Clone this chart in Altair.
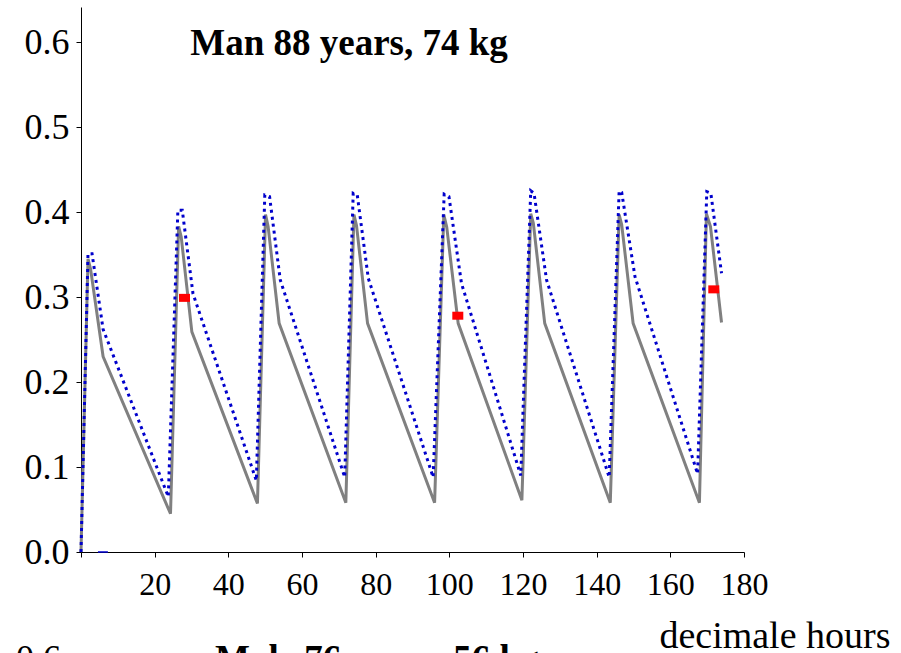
import altair as alt
import pandas as pd

# Serum concentration over a week of once-daily dosing (hours since first dose)
model_a_hours = [0, 1.9, 2.6, 6.0, 24.3, 26.5, 27.2, 30.1, 47.9, 50.1, 50.8, 53.8,
                 71.9, 74.1, 74.8, 77.8, 96.0, 98.5, 99.3, 102.4, 119.7, 122.1,
                 122.8, 125.9, 143.7, 146.1, 146.8, 149.9, 167.9, 169.8, 170.9, 173.9]
model_a_conc = [0.0, 0.345, 0.333, 0.230, 0.045, 0.383, 0.371, 0.259, 0.057, 0.397,
                0.383, 0.269, 0.058, 0.397, 0.384, 0.269, 0.058, 0.397, 0.382, 0.269,
                0.061, 0.398, 0.387, 0.269, 0.058, 0.397, 0.385, 0.269, 0.058, 0.398,
                0.383, 0.270]

model_b_hours = [0, 1.9, 3.0, 6.0, 23.7, 26.3, 27.5, 30.4, 47.6, 49.9, 51.2, 54.1,
                 71.6, 73.9, 75.0, 78.0, 95.6, 98.6, 99.9, 103.3, 119.4, 122.1,
                 123.0, 126.4, 143.4, 146.1, 146.8, 150.4, 167.4, 169.9, 171.0, 173.9]
model_b_conc = [0.0, 0.351, 0.351, 0.262, 0.065, 0.402, 0.402, 0.304, 0.084, 0.420,
                0.418, 0.320, 0.088, 0.422, 0.420, 0.322, 0.088, 0.421, 0.418, 0.316,
                0.090, 0.425, 0.422, 0.320, 0.088, 0.425, 0.423, 0.324, 0.092, 0.424,
                0.422, 0.328]

baseline_hours = [4.6, 7.3]
baseline_conc = [0.0, 0.0]

measured_hours = [28.1, 102.3, 171.8]
measured_conc = [0.299, 0.278, 0.309]

x_ticks = [0, 20, 40, 60, 80, 100, 120, 140, 160, 180]
y_ticks = [0.0, 0.1, 0.2, 0.3, 0.4, 0.5, 0.6]

SERIF = "Liberation Serif"

df_a = pd.DataFrame({"hours": model_a_hours, "conc": model_a_conc})
df_b = pd.DataFrame({"hours": model_b_hours, "conc": model_b_conc})
df_base = pd.DataFrame({"hours": baseline_hours, "conc": baseline_conc})
df_m = pd.DataFrame({"hours": measured_hours, "conc": measured_conc})

x_enc = alt.X(
    "hours:Q",
    scale=alt.Scale(domain=[0, 180], nice=False, zero=False),
    axis=alt.Axis(
        values=x_ticks,
        labelExpr="datum.value == 0 ? '' : datum.label",
        grid=False,
        domainColor="black",
        domainWidth=1,
        tickColor="black",
        tickSize=5,
        labelFont=SERIF,
        labelFontSize=32,
        labelColor="black",
        labelPadding=12,
        labelFlush=False,
        title="decimale hours",
        titleFont=SERIF,
        titleFontSize=38,
        titleFontWeight="normal",
        titleColor="black",
        titleAlign="right",
        titleBaseline="alphabetic",
        titleX=809,
        titleY=95,
    ),
)

y_enc = alt.Y(
    "conc:Q",
    scale=alt.Scale(domain=[0, 0.6412], nice=False, zero=True),
    axis=alt.Axis(
        values=y_ticks,
        format=".1f",
        grid=False,
        domainColor="black",
        domainWidth=1,
        tickColor="black",
        tickSize=5,
        labelFont=SERIF,
        labelFontSize=36,
        labelColor="black",
        labelPadding=7,
        labelFlush=False,
        title=None,
    ),
)

line_a = alt.Chart(df_a).mark_line(color="#808080", strokeWidth=3).encode(
    x=x_enc, y=y_enc
)

line_b = alt.Chart(df_b).mark_line(
    color="#0000cc", strokeWidth=3, strokeDash=[3, 4], strokeCap="butt"
).encode(x=x_enc, y=y_enc)

base_dash = alt.Chart(df_base).mark_line(color="#0000cc", strokeWidth=1.5).encode(
    x=x_enc, y=y_enc
)

measured = alt.Chart(df_m).mark_point(
    shape="M-1.1,-0.8H1.1V0.8H-1.1Z",
    filled=True,
    color="#ff0000",
    opacity=1,
    size=100,
).encode(x=x_enc, y=y_enc)

title_text = alt.Chart(pd.DataFrame({"t": ["Man 88 years, 74 kg"]})).mark_text(
    font=SERIF, fontSize=37, fontWeight="bold", color="black",
    align="center", baseline="alphabetic",
).encode(x=alt.value(268), y=alt.value(48), text="t:N")

# Heading and top label of the next panel, which starts below this one
next_title = alt.Chart(pd.DataFrame({"t": ["Male 76 years, 56 kg"]})).mark_text(
    font=SERIF, fontSize=37, fontWeight="bold", color="black",
    align="left", baseline="alphabetic",
).encode(x=alt.value(134), y=alt.value(664), text="t:N")

next_label = alt.Chart(pd.DataFrame({"t": ["0.6"]})).mark_text(
    font=SERIF, fontSize=36, color="black",
    align="right", baseline="alphabetic",
).encode(x=alt.value(-20), y=alt.value(663), text="t:N")

chart = alt.layer(
    line_a, line_b, base_dash, measured, title_text, next_title, next_label
).properties(
    width=663,
    height=545,
    autosize=alt.AutoSizeParams(type="none"),
    padding={"left": 81, "top": 7, "right": 157, "bottom": 101},
    background="white",
).configure_view(stroke=None)

chart.save("out.html", embed_options={"renderer": "svg", "actions": False})
